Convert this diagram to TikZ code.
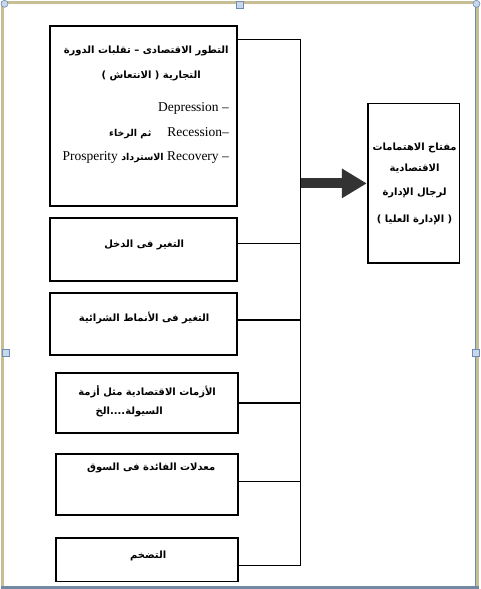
\documentclass[tikz,border=0pt]{standalone}
\usepackage{fontspec}
\setmainfont{Liberation Serif}
\newfontfamily\arabicfont[Script=Arabic]{DejaVu Sans}
\TeXXeTstate=1
\usetikzlibrary{arrows.meta,positioning}
\definecolor{frametan}{RGB}{200,190,150}
\definecolor{frameblue}{RGB}{110,140,175}
\definecolor{handle}{RGB}{200,215,235}

\tikzset{
  factor/.style={draw=black,line width=1.8pt,minimum width=187pt,inner sep=0pt},
  ar/.style={font=\arabicfont\bfseries\fontsize{10}{12}\selectfont,inner sep=0pt},
  en/.style={font=\fontsize{13.5}{15}\selectfont,inner sep=0pt},
  link/.style={line width=1.2pt},
}
\newcommand{\arinline}[1]{{\arabicfont\bfseries\fontsize{9.5}{11}\selectfont\beginR #1\endR}}

\begin{document}
\begin{tikzpicture}[x=1pt,y=-1pt]
    % screenshot frame
    \fill[frametan] (0,0) rectangle (479,589);
    \fill[white] (3,3) rectangle (475,586);
    \draw[frameblue,line width=1pt] (475,0) -- (475,589);
    \draw[frameblue!70!gray,line width=3pt] (0,587.5) -- (479,587.5);
    \foreach \hx/\hy in {239/4,4/353,475/353}
      \filldraw[fill=handle,draw=frameblue,line width=0.6pt] (\hx-3.5,\hy-3.5) rectangle (\hx+3.5,\hy+3.5);
    \foreach \hx/\hy in {3/3,476/3}
      \filldraw[fill=handle,draw=frameblue,line width=0.6pt] (\hx,\hy) circle (3.5pt);
    \useasboundingbox (0,0) rectangle (479,589);

    % boxes
    \node (cycle) [factor,minimum height=181pt] at (142.5,115.5) {};
    \node (income) [factor,minimum height=63pt] at (142.5,249.5) {};
    \node (buying) [factor,minimum height=62pt] at (142.5,324) {};
    \node (crisis) [factor,minimum width=182pt,minimum height=60pt] at (146,403) {};
    \node (interest) [factor,minimum width=182pt,minimum height=61pt] at (146,484.5) {};
    \node (inflation) [factor,minimum width=182pt,minimum height=44pt] at (146,560) {};
    \node (key) [factor,minimum width=92pt,minimum height=160pt] at (413,183) {};

    % connectors to the bus
    \coordinate (bus top) at (300,39);
    \coordinate (bus bottom) at (300,566);
    \draw[link] (cycle.east |- bus top) -- (bus top) -- (bus bottom) -- (inflation.east |- bus bottom);
    \foreach \n/\y in {income/243,buying/320,crisis/403,interest/482}
      \draw[link] (\n.east |- 0,\y) -- (bus top |- 0,\y);
    \draw[line width=10pt,black!80,-{Triangle[length=25pt,width=28pt]}] (bus top |- key) -- (key.west);

    % texts
    \node (cycle-a) [ar] at (145,50) {\beginR التطور الاقتصادى – تقلبات الدورة\endR};
    \node (cycle-b) [ar] at (150,75) {\beginR التجارية ( الانتعاش )\endR};
    \node (cycle-c) [en,anchor=east] at (228,108) {Depression –};
    \node (cycle-d) [en,anchor=east] at (228,133) {\arinline{ثم الرخاء}\hspace{16pt}Recession–};
    \node (cycle-e) [en,anchor=east] at (228,157) {Prosperity \arinline{الاسترداد} Recovery –};

    \node (income-a) [ar] at (143,245) {\beginR التغير فى الدخل\endR};
    \node (buying-a) [ar] at (143,318) {\beginR التغير فى الأنماط الشرائية\endR};
    \node (crisis-a) [ar] at (146,392) {\beginR الأزمات الاقتصادية مثل أزمة\endR};
    \node (crisis-b) [ar] at (128,412) {\beginR السيولة....الخ\endR};
    \node (interest-a) [ar] at (150,468) {\beginR معدلات الفائدة فى السوق\endR};
    \node (inflation-a) [ar] at (147,556) {\beginR التضخم\endR};

    \node (key-a) [ar] at (414,147) {\beginR مفتاح الاهتمامات\endR};
    \node (key-b) [ar] at (414,168) {\beginR الاقتصادية\endR};
    \node (key-c) [ar] at (414,193) {\beginR لرجال الإدارة\endR};
    \node (key-d) [ar] at (414,220) {\beginR ( الإدارة العليا )\endR};
\end{tikzpicture}
\end{document}
